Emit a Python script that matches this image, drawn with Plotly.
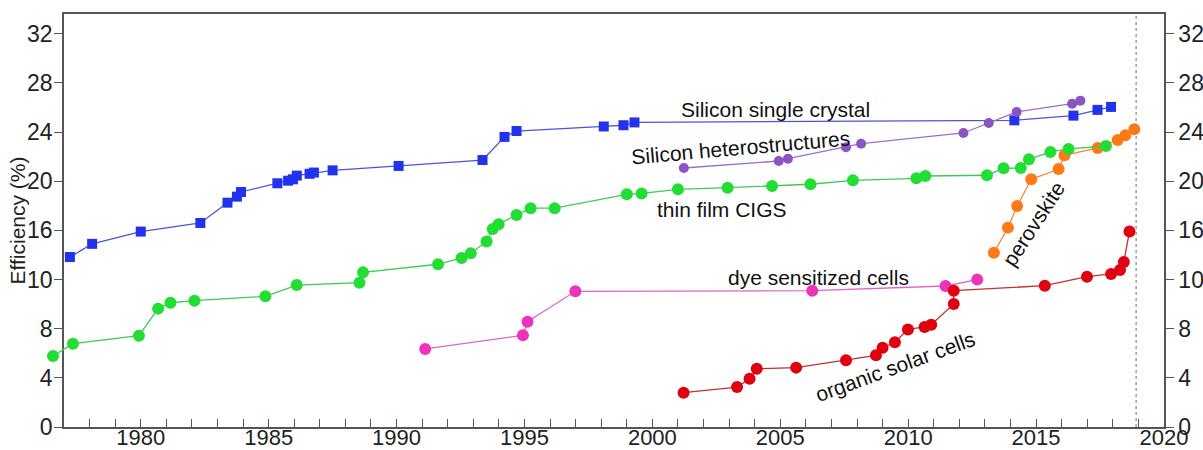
import plotly.graph_objects as go

# ---- data (year, efficiency %) ----
si_x = [1977.23, 1978.1, 1980.0, 1982.33, 1983.39, 1983.76, 1983.92, 1985.34, 1985.76, 1985.95,
        1986.1, 1986.6, 1986.77, 1987.5, 1990.08, 1993.36, 1994.22, 1994.69, 1998.1, 1998.87,
        1999.3, 2014.15, 2016.46, 2017.4, 2017.93]
si_y = [13.83, 14.9, 15.9, 16.6, 18.25, 18.74, 19.12, 19.83, 20.04, 20.15,
        20.45, 20.6, 20.7, 20.88, 21.24, 21.72, 23.6, 24.08, 24.45, 24.55,
        24.78, 24.95, 25.33, 25.8, 26.04]

het_x = [2001.23, 2004.94, 2005.3, 2007.57, 2008.16, 2012.16, 2013.15, 2014.24, 2016.41, 2016.73]
het_y = [21.07, 21.64, 21.83, 22.76, 23.05, 23.92, 24.73, 25.63, 26.3, 26.55]

cigs_x = [1976.57, 1977.35, 1979.93, 1980.68, 1981.16, 1982.1, 1984.87, 1986.1, 1988.55, 1988.69,
          1991.62, 1992.54, 1992.9, 1993.52, 1993.76, 1993.99, 1994.69, 1995.24, 1996.18, 1999.0,
          1999.58, 2001.0, 2002.94, 2004.68, 2006.18, 2007.84, 2010.32, 2010.67, 2013.08, 2013.73,
          2014.4, 2014.72, 2015.56, 2016.27, 2017.73]
cigs_y = [5.78, 6.78, 7.43, 9.63, 10.11, 10.28, 10.63, 11.55, 11.74, 12.58,
          13.24, 13.75, 14.13, 15.1, 16.1, 16.5, 17.25, 17.8, 17.8, 18.93,
          19.0, 19.34, 19.47, 19.61, 19.75, 20.07, 20.23, 20.42, 20.48, 21.05,
          21.07, 21.78, 22.38, 22.62, 22.86]

pero_x = [2013.35, 2013.9, 2014.26, 2014.81, 2015.88, 2016.11, 2017.41, 2018.19, 2018.49, 2018.84]
pero_y = [14.18, 16.22, 17.98, 20.15, 20.99, 22.1, 22.7, 23.35, 23.73, 24.22]

dye_x = [1991.12, 1994.94, 1995.12, 1996.99, 2006.25, 2011.46, 2012.7]
dye_y = [6.35, 7.46, 8.57, 11.04, 11.09, 11.47, 11.99]

org_x = [2001.22, 2003.31, 2003.8, 2004.08, 2005.62, 2007.57, 2008.74, 2009.0, 2009.48, 2009.99,
         2010.64, 2010.9, 2011.78, 2011.78, 2015.34, 2016.99, 2017.93, 2018.28, 2018.43, 2018.65]
org_y = [2.79, 3.25, 3.93, 4.74, 4.83, 5.43, 5.83, 6.45, 6.89, 7.94,
         8.14, 8.32, 10.0, 11.09, 11.5, 12.23, 12.45, 12.77, 13.43, 15.9]

y_tickvals = [0, 4, 8, 12, 16, 20, 24, 28, 32]
y_ticktext = ["0", "4", "8", "10", "16", "20", "24", "28", "32"]
x_tickvals = [1980, 1985, 1990, 1995, 2000, 2005, 2010, 2015, 2020]

FONT = "Liberation Sans, Arial, sans-serif"
AX = "#555555"
TICKSIZE = 23

# geometry: paper area and axes placement (pixels)
W, L, R = 1203, 40, 39
PW = W - L - R                      # paper plotting width
AXIS_LEFT = 64                      # y-axis line position
X0, X1 = 1977, 2020                 # visible x-range
PX_PER_YR = (W - R - AXIS_LEFT) / (X1 - X0)
X2_START = 1976.5                   # helper axis lets the first CIGS point sit left of the frame
dom1 = (AXIS_LEFT - L) / PW
dom2 = (AXIS_LEFT - (X0 - X2_START) * PX_PER_YR - L) / PW

fig = go.Figure()

def add(x, y, color, lcolor, symbol, size, xaxis="x"):
    fig.add_trace(go.Scatter(x=x, y=y, mode="lines", xaxis=xaxis,
                             line=dict(color=lcolor, width=1.3),
                             showlegend=False, hoverinfo="skip"))
    fig.add_trace(go.Scatter(x=x, y=y, mode="markers", xaxis=xaxis,
                             marker=dict(color=color, symbol=symbol, size=size),
                             cliponaxis=False, showlegend=False))

add(si_x, si_y, "#2233ee", "#4a55d8", "square", 10)
add(het_x, het_y, "#8a55c0", "#9a70c8", "circle", 10)
add(cigs_x, cigs_y, "#22dd33", "#44c855", "circle", 12, xaxis="x2")
add(pero_x, pero_y, "#ff7a14", "#f08a3a", "circle", 12)
add(dye_x, dye_y, "#ee33bb", "#dd66c8", "circle", 12)
add(org_x, org_y, "#e00010", "#c43030", "circle", 12)

# invisible trace to anchor the right axis
fig.add_trace(go.Scatter(x=[2000], y=[0], yaxis="y2", mode="markers",
                         marker=dict(opacity=0), showlegend=False, hoverinfo="skip"))

labels = [
    ("Silicon single crystal", 2004.83, 25.87, 0),
    ("Silicon heterostructures", 2003.43, 22.7, -5),
    ("thin film CIGS", 2002.72, 17.66, 0),
    ("dye sensitized cells", 2006.48, 12.2, 0),
    ("organic solar cells", 2009.49, 4.96, -20),
    ("perovskite", 2014.92, 16.52, -57),
]
for t, x, y, a in labels:
    fig.add_annotation(x=x, y=y, text=t, showarrow=False, textangle=a,
                       font=dict(family=FONT, size=21, color="#111111"))

# y-axis title placed as rotated text close to the tick labels
fig.add_annotation(x=(17 - L) / PW, y=0.5, xref="paper", yref="paper", text="Efficiency (%)",
                   showarrow=False, textangle=-90, xanchor="center", yanchor="middle",
                   font=dict(family=FONT, size=21, color="#222222"))

fig.add_shape(type="line", x0=2018.91, x1=2018.91, y0=0, y1=1, yref="paper",
              line=dict(color="#888888", width=1.2, dash="dot"))

fig.update_layout(
    width=W, height=450,
    margin=dict(l=L, r=R, t=14, b=23),
    paper_bgcolor="white", plot_bgcolor="rgba(0,0,0,0)",
    font=dict(family=FONT, size=TICKSIZE, color="#222222"),
    xaxis=dict(domain=[dom1, 1], range=[X0, X1], tickvals=x_tickvals, ticks="inside",
               ticklen=8, tickwidth=1.3, tickcolor=AX, showline=True, linecolor=AX,
               linewidth=1.5, mirror=True, showgrid=False, zeroline=False, automargin=False,
               ticklabelstandoff=-10,
               minor=dict(ticks="inside", dtick=1, ticklen=8, tickwidth=1.3, tickcolor=AX),
               tickfont=dict(size=22)),
    xaxis2=dict(domain=[dom2, 1], range=[X2_START, X1], anchor="y", visible=False,
                showgrid=False, zeroline=False, automargin=False),
    yaxis=dict(range=[0, 33.6], tickvals=y_tickvals, ticktext=y_ticktext, ticks="outside",
               ticklen=8, tickwidth=1.3, tickcolor=AX, showline=True, linecolor=AX,
               linewidth=1.5, showgrid=False, zeroline=False, tickfont=dict(size=TICKSIZE),
               automargin=False, anchor="x", ticklabelstandoff=-3),
    yaxis2=dict(range=[0, 33.6], overlaying="y", side="right", anchor="x", tickvals=y_tickvals,
                ticktext=y_ticktext, ticks="outside", ticklen=8, tickwidth=1.3, tickcolor=AX,
                showline=True, linecolor=AX, linewidth=1.5, showgrid=False, zeroline=False,
                automargin=False, tickfont=dict(size=TICKSIZE)),
)

fig.write_html("out.html")
